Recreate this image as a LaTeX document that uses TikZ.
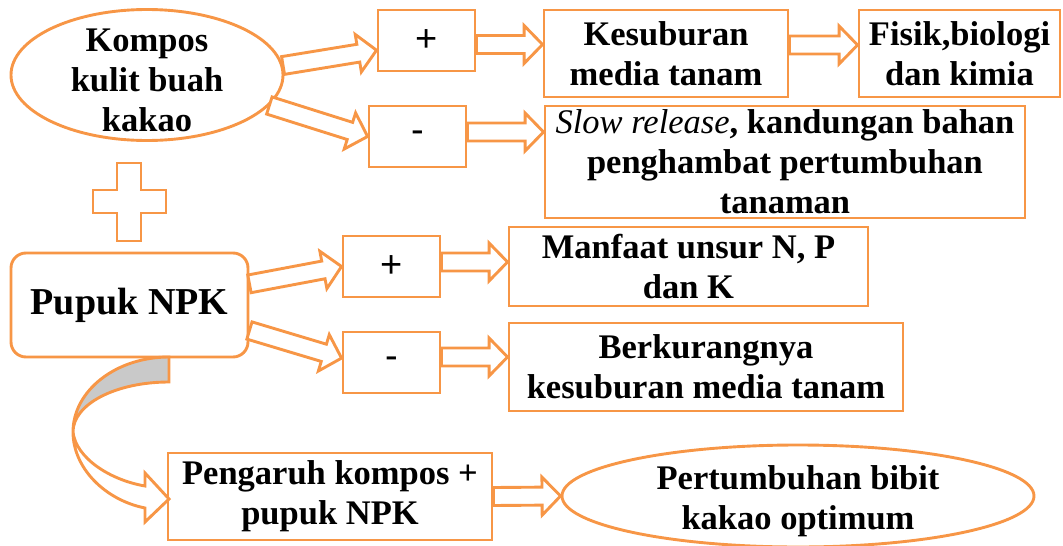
\documentclass[tikz,border=0pt]{standalone}
\usepackage{fontspec}
\setmainfont{Liberation Serif}
\newfontfamily\signfont{Liberation Sans}
\usetikzlibrary{calc,shapes.geometric}
\definecolor{kakao}{RGB}{247,150,70}
\definecolor{backside}{RGB}{201,201,201}
\tikzset{
  orangeline/.style={draw=kakao,line width=2.9pt},
  box/.style={orangeline,fill=white,align=center,inner sep=0pt,font=\bfseries\fontsize{34.5}{40}\selectfont},
  oval/.style={orangeline,ellipse,inner sep=0pt},
  lbl/.style={align=center,font=\bfseries\fontsize{34.5}{40}\selectfont},
  sign/.style={box,font=\signfont\fontsize{38}{40}\selectfont,minimum width=97pt,minimum height=61pt},
  blockarr/.style={orangeline,fill=white,line join=miter},
}
\newcommand{\blockarrow}[2]{%
  \coordinate (hb) at ($(#2)!18.5pt!(#1)$);
  \draw[blockarr] ($(#1)!9pt!90:(#2)$) -- ($(hb)!9pt!90:(#2)$) -- ($(hb)!19pt!90:(#2)$)
    -- (#2) -- ($(hb)!19pt!-90:(#2)$) -- ($(hb)!9pt!-90:(#2)$) -- ($(#1)!9pt!-90:(#2)$) -- cycle;}

\begin{document}
\begin{tikzpicture}[x=1pt,y=-1pt]
  \useasboundingbox (0,0) rectangle (1063,546);
  % upper row: kompos
  \node[oval,minimum width=272pt,minimum height=131pt,label={[lbl,yshift=-5pt]center:{Kompos\\kulit buah\\kakao}}] (kompos) at (147,75) {};
  \node[sign] (plusA) at (426.5,40.5) {+};
  \node[sign] (minA) at (417.5,136.5) {-};
  \node[box,minimum width=244pt,minimum height=87pt] (kesuburan) at (666,53.5) {Kesuburan\\media tanam};
  \node[box,minimum width=201pt,minimum height=87pt] (fisik) at (959.5,53.5) {Fisik,biologi\\dan kimia};
  \node[box,minimum width=480pt,minimum height=112pt] (slow) at (785,162) {{\mdseries\itshape Slow release}, kandungan bahan\\penghambat pertumbuhan\\tanaman};
  % plus sign
  \draw[orangeline,fill=white] (117,163) -- (141,163) -- (141,190) -- (166,190) -- (166,213) -- (141,213) -- (141,241)
    -- (117,241) -- (117,213) -- (93,213) -- (93,190) -- (117,190) -- cycle;
  % middle row: pupuk NPK
  \node[box,rounded corners=15pt,minimum width=237pt,minimum height=104pt,font=\bfseries\fontsize{38}{44}\selectfont] (npk) at (129.5,305) {Pupuk NPK};
  \node[sign] (plusB) at (391.5,266.5) {+};
  \node[sign] (minB) at (391.5,362.5) {-};
  \node[box,minimum width=359pt,minimum height=79pt] (manfaat) at (688.5,266.5) {Manfaat unsur N, P\\dan K};
  \node[box,minimum width=394pt,minimum height=88pt] (berkurang) at (706,367) {Berkurangnya\\kesuburan media tanam};
  % bottom row
  \node[box,minimum width=324pt,minimum height=87pt] (pengaruh) at (330,496.5) {Pengaruh kompos +\\pupuk NPK};
  \node[oval,minimum width=472pt,minimum height=102pt,label={[lbl,yshift=-5pt]center:{Pertumbuhan bibit\\kakao optimum}}] (hasil) at (798,496) {};
  % arrows
  \coordinate (pa1) at ($(plusA.east)+(0,4)$);
  \coordinate (pa2) at ($(kesuburan.west |- plusA.east)+(0,4)$);
  \coordinate (ks1) at ($(kesuburan.east)+(0,-8.5)$);
  \coordinate (ks2) at ($(fisik.west)+(0,-8.5)$);
  \coordinate (ma1) at ($(minA.east)+(0,-4.5)$);
  \coordinate (ma2) at ($(slow.west |- minA.east)+(0,-4.5)$);
  \coordinate (pb1) at ($(plusB.east)+(0,-4.5)$);
  \coordinate (pb2) at ($(manfaat.west |- plusB.east)+(0,-4.5)$);
  \coordinate (mb1) at ($(minB.east)+(0,-5.5)$);
  \coordinate (mb2) at ($(berkurang.west |- minB.east)+(0,-5.5)$);
  \blockarrow{kompos.4}{plusA.191}
  \blockarrow{kompos.346}{minA.west}
  \blockarrow{pa1}{pa2}
  \blockarrow{ks1}{ks2}
  \blockarrow{ma1}{ma2}
  \blockarrow{npk.10}{plusB.west}
  \blockarrow{npk.348}{minB.175}
  \blockarrow{pb1}{pb2}
  \blockarrow{mb1}{mb2}
  \blockarrow{pengaruh.east}{hasil.west}
  % curved arrow
  \draw[orangeline,fill=backside] (169,357) -- (169,382) .. controls (116,382) and (73,404) .. (73,432)
    .. controls (73,390.6) and (116,357) .. (169,357) -- cycle;
  \draw[blockarr] (73,432) .. controls (73,468) and (105,500) .. (145,508) -- (145,522) -- (169,499)
    -- (145,473) -- (145,486) .. controls (110,480) and (76,458) .. (73,432) -- cycle;
\end{tikzpicture}
\end{document}
